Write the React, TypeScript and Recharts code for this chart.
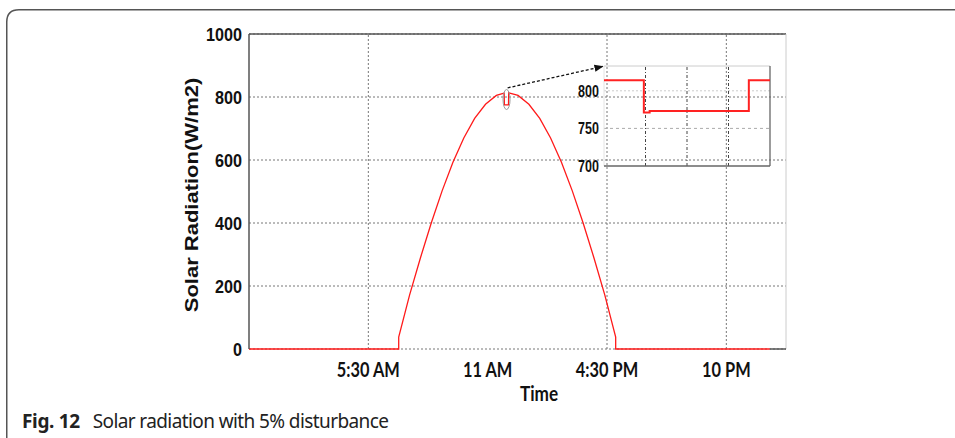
import React from "react";
import {
  Line,
  LineChart,
  CartesianGrid,
  ReferenceDot,
  ReferenceLine,
  XAxis,
  YAxis,
} from "recharts";

// hour of day and solar radiation (W/m2)
const HOURS = [
  0, 6.9, 6.9, 7.4, 7.9, 8.4, 8.9, 9.4, 9.9, 10.4, 10.9, 11.4, 11.76, 11.77,
  11.96, 11.97, 12.4, 12.9, 13.4, 13.9, 14.4, 14.9, 15.4, 15.9, 16.4, 16.9,
  16.9, 24,
];
const RADIATION = [
  0, 0, 38, 171, 289, 400, 502, 593, 670, 732, 777, 805, 812, 775, 775, 813,
  805, 777, 732, 670, 593, 502, 400, 289, 171, 38, 0, 0,
];

const TIME_TICKS = [5.5, 11, 16.5, 22];
const TIME_LABELS = ["5:30 AM", "11 AM", "4:30 PM", "10 PM"];
const RAD_TICKS = [0, 200, 400, 600, 800, 1000];

// zoomed view of the disturbance near noon
const ZOOM_T = [0, 0.96, 0.96, 1.1, 1.1, 3.49, 3.49, 4];
const ZOOM_V = [814, 814, 771, 771, 773, 773, 814, 814];
const ZOOM_TICKS = [700, 750, 800];

const mainData = HOURS.map((h, i) => ({ h, v: RADIATION[i] }));
const zoomData = ZOOM_T.map((t, i) => ({ t, v: ZOOM_V[i] }));

const ARIAL = "Liberation Sans, Arial, sans-serif";

// the figure's text is squeezed horizontally, so ticks are drawn with a scaleX
const makeYTick =
  (size: number, sx: number) =>
  ({ x, y, payload }: any) => (
    <g transform={`translate(${x},${y}) scale(${sx},1)`}>
      <text
        x={0}
        y={0}
        dy="0.36em"
        textAnchor="end"
        style={{ fontFamily: ARIAL, fontWeight: 700, fontSize: size, fill: "#111" }}
      >
        {payload.value}
      </text>
    </g>
  );

const TimeTick = ({ x, y, payload }: any) => (
  <g transform={`translate(${x},${y}) scale(0.82,1)`}>
    <text
      x={0}
      y={0}
      dy="0.71em"
      textAnchor="middle"
      style={{ fontFamily: "Lato, sans-serif", fontWeight: 700, fontSize: 20, fill: "#111" }}
    >
      {TIME_LABELS[TIME_TICKS.indexOf(payload.value)]}
    </text>
  </g>
);

export default function App() {
  return (
    <div
      style={{
        position: "absolute",
        left: 0,
        top: 0,
        width: 955,
        height: 438,
        overflow: "hidden",
        background: "#fff",
      }}
    >
      <svg
        width={955}
        height={438}
        style={{ position: "absolute", left: 0, top: 0 }}
      >
        <path
          d="M6.75,445 L6.75,22 Q6.75,9.75 19,9.75 L960,9.75"
          fill="none"
          stroke="#555"
          strokeWidth={1.5}
        />
      </svg>
      <div style={{ position: "absolute", left: 0, top: 0 }}>
        <LineChart
          width={955}
          height={438}
          data={mainData}
          margin={{ top: 34, right: 169, bottom: 49, left: 0 }}
        >
          <defs>
            <marker
              id="arrowHead"
              viewBox="0 0 10 10"
              refX="9"
              refY="5"
              markerWidth="7"
              markerHeight="7"
              orient="auto"
            >
              <path d="M0,1 L10,5 L0,9 z" fill="#111" />
            </marker>
          </defs>
          <CartesianGrid vertical={false} stroke="#777" strokeDasharray="2 2" />
          {TIME_TICKS.filter((t) => t !== 11).map((t) => (
            <ReferenceLine key={t} x={t} stroke="#777" strokeDasharray="2 2" />
          ))}
          <ReferenceLine y={1000} stroke="#555" strokeWidth={1.5} />
          <ReferenceLine x={24.75} stroke="#ccc" />
          <ReferenceLine
            segment={[
              { x: 24, y: 0 },
              { x: 24.75, y: 0 },
            ]}
            stroke="#555"
            strokeWidth={1.5}
          />
          <XAxis
            dataKey="h"
            type="number"
            domain={[0, 24.75]}
            ticks={TIME_TICKS}
            tick={<TimeTick />}
            tickLine={false}
            tickSize={0}
            tickMargin={14}
            axisLine={false}
            height={40}
            label={{
              content: ({ viewBox }: any) => (
                <g transform={`translate(${viewBox.x + 290},${viewBox.y + 52}) scale(0.86,1)`}>
                  <text
                    x={0}
                    y={0}
                    textAnchor="middle"
                    style={{
                      fontFamily: "Lato, sans-serif",
                      fontWeight: 700,
                      fontSize: 20,
                      fill: "#111",
                    }}
                  >
                    Time
                  </text>
                </g>
              ),
            }}
          />
          <YAxis
            type="number"
            domain={[0, 1000]}
            ticks={RAD_TICKS}
            tick={makeYTick(18.6, 0.87)}
            tickLine={false}
            tickSize={0}
            tickMargin={7}
            axisLine={{ stroke: "#555", strokeWidth: 1.5 }}
            width={249}
            label={{
              content: ({ viewBox }: any) => (
                <g
                  transform={`translate(191.5,${viewBox.y + viewBox.height / 2 + 3.5}) scale(0.86,1) rotate(-90)`}
                >
                  <text
                    x={0}
                    y={0}
                    textAnchor="middle"
                    dominantBaseline="central"
                    style={{ fontFamily: ARIAL, fontWeight: 700, fontSize: 22, fill: "#111" }}
                  >
                    Solar Radiation(W/m2)
                  </text>
                </g>
              ),
            }}
          />
          <Line
            dataKey="v"
            type="linear"
            stroke="#ff1a1a"
            strokeWidth={1.3}
            dot={false}
            isAnimationActive={false}
          />
          <ReferenceDot
            x={11.87}
            y={792}
            shape={(p: any) => (
              <ellipse
                cx={p.cx}
                cy={p.cy}
                rx={3.5}
                ry={10}
                fill="none"
                stroke="#999"
                strokeWidth={1}
              />
            )}
          />
          <ReferenceLine
            segment={[
              { x: 11.92, y: 829 },
              { x: 16.3, y: 897 },
            ]}
            shape={(p: any) => (
              <line
                x1={p.x1}
                y1={p.y1}
                x2={p.x2}
                y2={p.y2}
                stroke="#111"
                strokeWidth={1.3}
                strokeDasharray="3 2"
                markerEnd="url(#arrowHead)"
              />
            )}
          />
        </LineChart>
      </div>
      <div style={{ position: "absolute", left: 556, top: 56 }}>
        <LineChart
          width={224}
          height={120}
          data={zoomData}
          margin={{ top: 10, right: 10, bottom: 10, left: 0 }}
        >
          <ReferenceLine y={750} stroke="#aaa" strokeDasharray="3 3" />
          <ReferenceLine y={800} stroke="#ccc" strokeDasharray="2 2" />
          {[1, 2, 3].map((t) => (
            <ReferenceLine key={t} x={t} stroke="#444" strokeDasharray="3 2 1 2" />
          ))}
          <ReferenceLine y={833} stroke="#ccc" />
          <ReferenceLine x={0} stroke="#e4e4e4" />
          <ReferenceLine x={4} stroke="#666" strokeWidth={1.3} />
          <ReferenceLine y={700} stroke="#666" strokeWidth={1.5} />
          <XAxis dataKey="t" type="number" domain={[0, 4]} hide />
          <YAxis
            type="number"
            domain={[700, 833]}
            ticks={ZOOM_TICKS}
            tick={makeYTick(16.5, 0.76)}
            tickLine={false}
            tickSize={0}
            tickMargin={5}
            axisLine={false}
            width={48}
          />
          <Line
            dataKey="v"
            type="linear"
            stroke="#ff2222"
            strokeWidth={2}
            dot={false}
            isAnimationActive={false}
          />
        </LineChart>
      </div>
      <div
        style={{
          position: "absolute",
          left: 22,
          top: 408,
          fontFamily: "Noto Sans, Open Sans, sans-serif",
          fontSize: 19,
          lineHeight: "26px",
          color: "#222",
          whiteSpace: "nowrap",
        }}
      >
        <b style={{ letterSpacing: -0.35 }}>Fig. 12</b>
        <span style={{ marginLeft: 13, letterSpacing: -0.6 }}>
          Solar radiation with 5% disturbance
        </span>
      </div>
    </div>
  );
}
